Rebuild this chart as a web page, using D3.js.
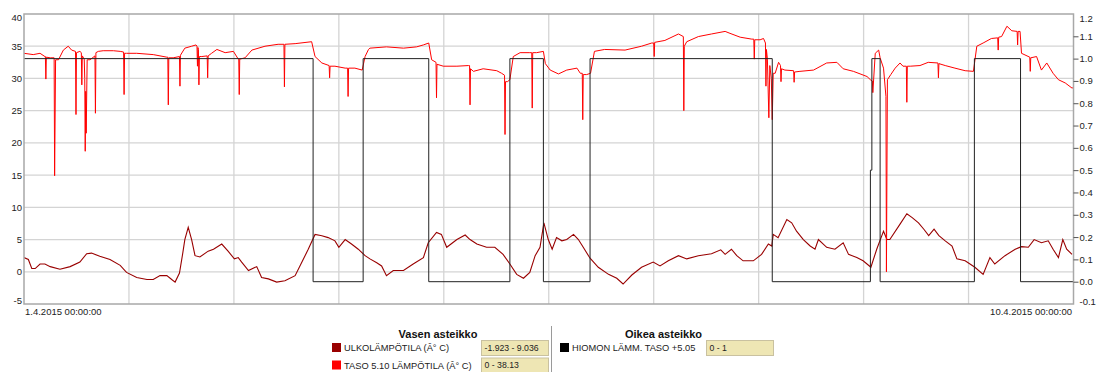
<!DOCTYPE html>
<html>
<head>
<meta charset="utf-8">
<script src="https://cdn.jsdelivr.net/npm/d3@7"></script>
<style>
  body { margin: 0; background: #fff; }
  svg { display: block; font-family: "Liberation Sans", Arial, sans-serif; }
</style>
</head>
<body>
<div id="chart"></div>
<script>
// time axis: 1.4.2015 -> 10.4.2015, values keyed by hours from start
const startTime = new Date(2015, 3, 1);
const endTime = new Date(2015, 3, 10);
const dateLabels = ['1.4.2015 00:00:00', '10.4.2015 00:00:00'];

const leftTicks = [-5, 0, 5, 10, 15, 20, 25, 30, 35, 40];
const rightTicks = [-0.1, 0, 0.1, 0.2, 0.3, 0.4, 0.5, 0.6, 0.7, 0.8, 0.9, 1.0, 1.1, 1.2];

const leftNames = ['ULKOLÄMPÖTILA (Â° C)', 'TASO 5.10 LÄMPÖTILA (Â° C)'];
const leftRanges = ['-1.923 - 9.036', '0 - 38.13'];
const rightNames = ['HIOMON LÄMM. TASO +5.05'];
const rightRanges = ['0 - 1'];

// ULKOLÄMPÖTILA, left scale
const ulkoSeries = [
  [0, 2.2], [0.9, 1.9], [1.6, 0.5], [2.3, 0.5], [3.3, 1.2], [4.3, 1.2], [5.4, 0.8], [7.4, 0.4],
  [9.5, 0.8], [11.5, 1.5], [12.9, 2.8], [13.9, 2.9], [15.6, 2.4], [17.7, 1.9], [19.8, 1.0],
  [21.1, -0.1], [23.2, -0.9], [25.3, -1.2], [26.6, -1.2], [28.0, -0.6], [29.4, -0.6], [30.4, -1.2],
  [31.1, -1.6], [32.0, -0.2], [32.7, 3.0], [33.1, 5.0], [33.8, 6.9], [34.5, 5.0], [35.2, 2.5],
  [36.2, 2.3], [37.9, 3.2], [39.0, 3.5], [40.7, 4.3], [42.0, 3.2], [43.3, 2.0], [44.1, 2.2],
  [44.8, 1.5], [46.2, 0.2], [47.9, 0.8], [48.9, -0.9], [50.3, -1.1], [52.0, -1.6], [53.7, -1.4],
  [55.8, -0.6], [57.2, 1.5], [58.5, 3.5], [59.9, 5.8], [61.3, 5.6], [62.6, 5.3], [64.0, 4.8],
  [64.8, 3.8], [66.1, 5.0], [67.4, 4.3], [68.8, 3.5], [70.2, 2.5], [71.2, 2.0], [72.6, 1.4],
  [73.6, 0.9], [74.6, -0.6], [76.0, 0.2], [78.1, 0.2], [80.1, 1.2], [82.2, 2.2], [83.2, 4.5],
  [84.9, 6.1], [85.9, 5.8], [87.0, 3.8], [89.1, 5.0], [90.8, 5.7], [91.8, 5.0], [93.2, 4.3],
  [95.2, 3.8], [96.9, 3.8], [98.6, 2.7], [100.0, 1.2], [101.4, -0.4], [102.8, -1.0], [104.1, -0.1],
  [105.2, 2.5], [106.2, 3.8], [107.0, 7.6], [107.9, 5.0], [108.7, 3.5], [109.6, 5.3], [110.7, 4.8],
  [111.7, 5.0], [113.1, 5.8], [114.1, 5.0], [115.1, 3.8], [116.5, 2.1], [118.2, 0.7], [120.3, -0.4],
  [122.0, -1.0], [123.3, -1.9], [125.1, -0.5], [127.1, 0.7], [129.5, 1.5], [130.9, 0.9], [132.6, 1.7],
  [134.7, 2.5], [136.4, 2.0], [138.8, 2.5], [141.5, 2.8], [143.4, 3.4], [144.3, 2.7], [145.6, 3.5],
  [146.7, 2.5], [148.0, 1.7], [150.1, 1.7], [151.8, 2.7], [153.2, 4.3], [153.9, 4.0], [154.2, 5.8],
  [155.2, 5.3], [157.0, 8.1], [158.0, 7.6], [159.0, 6.3], [160.4, 5.0], [161.8, 4.0], [162.8, 3.5],
  [163.5, 5.0], [165.2, 3.8], [166.9, 3.5], [168.6, 4.5], [169.7, 2.7], [171.4, 2.2], [172.7, 1.7],
  [174.3, 0.7], [175.5, 3.5], [176.9, 6.3], [177.6, 5.0], [178.2, 5.0], [180.3, 7.4], [181.7, 9.0],
  [182.8, 8.4], [184.1, 7.6], [185.2, 6.6], [186.2, 5.6], [187.3, 6.6], [188.3, 5.6], [189.6, 4.8],
  [191.0, 4.0], [192.0, 2.0], [193.7, 1.7], [195.7, 0.7], [197.4, -0.4], [198.8, 2.2], [199.8, 1.2],
  [201.9, 2.5], [204.0, 3.5], [205.3, 3.9], [206.7, 3.8], [207.9, 5.0], [209.4, 4.5], [210.8, 4.8],
  [211.8, 3.5], [212.9, 2.2], [213.8, 5.0], [214.6, 3.5], [215.7, 2.7]
];

// TASO 5.10 LÄMPÖTILA, left scale
const tasoSeries = [
  [0, 33.9], [1.9, 33.7], [3.3, 33.9], [4.3, 33.4], [4.4, 33.4], [4.5, 29.9], [4.6, 33.3], [5.4, 33.2],
  [6.2, 33.2], [6.3, 14.9], [6.5, 32.9], [7.1, 32.9], [8.1, 34.4], [9.1, 35.0], [9.8, 34.4], [10.6, 34.2],
  [10.7, 24.4], [10.8, 34.0], [11.5, 34.2], [11.8, 34.0], [11.9, 29.0], [12.0, 33.5], [12.4, 33.0],
  [12.5, 30.0], [12.6, 18.7], [12.7, 28.0], [12.8, 21.5], [13.0, 32.9], [13.6, 32.9], [14.6, 33.5],
  [14.7, 24.6], [14.8, 34.0], [15.3, 34.2], [16.3, 34.3], [18.4, 34.3], [19.8, 34.2], [20.5, 34.1],
  [20.6, 27.5], [20.7, 33.9], [21.1, 33.9], [23.2, 33.9], [26.6, 33.7], [29.4, 33.3], [29.6, 33.3],
  [29.7, 25.9], [29.8, 33.2], [30.7, 33.2], [32.0, 33.4], [32.1, 28.8], [32.2, 33.6], [33.1, 34.7],
  [34.5, 35.0], [35.4, 35.2], [35.6, 35.0], [35.7, 31.9], [35.8, 34.8], [35.9, 34.5], [36.0, 29.0],
  [36.1, 33.4], [36.6, 33.4], [37.7, 33.5], [37.8, 30.1], [37.9, 33.5], [38.6, 33.9], [39.7, 34.5],
  [41.4, 34.0], [43.1, 34.2], [44.1, 33.0], [44.2, 33.0], [44.3, 27.5], [44.4, 33.0], [45.5, 33.2],
  [46.9, 34.4], [49.6, 35.0], [52.3, 35.3], [53.5, 35.3], [53.6, 28.7], [53.7, 35.3], [55.8, 35.4],
  [59.2, 35.7], [59.9, 33.4], [61.3, 32.4], [62.8, 32.0], [62.9, 30.1], [63.0, 31.9], [64.0, 31.9],
  [66.1, 31.6], [66.6, 31.6], [66.7, 27.2], [66.8, 31.6], [68.1, 31.6], [69.6, 31.3], [70.2, 33.4],
  [70.9, 34.5], [71.2, 34.7], [74.6, 34.9], [78.1, 34.7], [80.8, 34.9], [82.2, 35.2], [83.3, 35.5],
  [83.9, 32.9], [84.8, 32.5], [84.9, 27.0], [85.0, 32.2], [86.3, 31.9], [89.1, 31.9], [91.5, 32.0],
  [91.7, 32.0], [91.8, 25.9], [91.9, 31.5], [92.5, 31.1], [94.5, 31.5], [97.3, 31.2], [98.3, 30.8],
  [98.9, 30.5], [99.0, 21.3], [99.1, 29.5], [99.5, 29.5], [100.0, 29.8], [100.7, 33.4], [102.1, 34.0],
  [104.1, 34.0], [104.5, 34.0], [104.6, 25.4], [104.7, 34.0], [105.5, 34.0], [106.9, 34.2], [107.3, 32.3],
  [108.3, 31.3], [110.0, 30.7], [111.7, 31.3], [113.8, 31.6], [114.5, 30.8], [114.9, 30.8], [115.0, 23.6],
  [115.1, 30.6], [115.8, 30.6], [116.6, 30.8], [117.4, 34.2], [119.5, 34.5], [123.7, 34.4], [127.1, 35.0],
  [129.2, 35.5], [129.6, 35.5], [129.7, 33.4], [129.8, 35.6], [131.9, 35.9], [134.7, 36.9], [135.7, 36.5],
  [135.8, 25.0], [135.9, 35.0], [136.4, 35.7], [138.8, 36.5], [141.5, 36.9], [144.3, 37.3], [145.3, 37.0],
  [147.4, 36.4], [149.8, 36.1], [150.2, 36.1], [150.3, 33.0], [150.4, 36.0], [151.5, 36.0], [152.2, 36.2],
  [152.6, 35.5], [152.7, 28.8], [152.8, 34.5], [153.0, 33.0], [153.3, 23.9], [153.5, 32.0], [153.8, 30.0],
  [154.0, 23.6], [154.2, 30.8], [154.6, 30.8], [155.3, 32.5], [155.7, 32.0], [155.8, 29.5], [155.9, 31.5],
  [156.6, 31.3], [158.4, 31.2], [158.5, 29.4], [158.6, 31.0], [159.7, 31.1], [162.5, 31.3], [165.2, 32.4],
  [167.3, 32.5], [168.6, 31.5], [170.7, 31.1], [173.5, 30.3], [174.2, 29.8], [174.6, 29.6], [174.7, 27.8],
  [175.2, 33.9], [175.9, 34.4], [176.2, 33.2], [176.9, 31.6], [177.4, 27.2], [177.5, 0.0], [177.7, 29.8],
  [178.4, 30.6], [179.3, 31.6], [180.3, 32.4], [180.9, 31.9], [181.6, 31.9], [181.7, 26.3], [181.8, 31.9],
  [182.4, 31.9], [184.4, 32.0], [186.1, 32.5], [188.1, 32.4], [188.2, 30.1], [188.3, 32.3], [189.6, 32.0],
  [191.6, 31.6], [193.7, 31.2], [195.4, 31.1], [196.1, 35.0], [197.4, 35.5], [199.1, 36.2], [200.4, 36.3],
  [200.5, 34.4], [200.6, 36.4], [201.2, 36.5], [202.3, 38.1], [203.3, 37.4], [204.4, 37.3], [204.5, 35.2],
  [204.6, 37.3], [205.0, 37.3], [205.3, 33.9], [207.0, 33.3], [207.1, 31.1], [207.2, 33.2], [208.4, 33.4],
  [209.4, 31.3], [210.5, 32.4], [211.8, 30.8], [212.9, 29.8], [214.3, 29.3], [215.7, 28.5], [216, 28.6]
];

// HIOMON LÄMM. TASO +5.05, right scale (step)
const hiomonSeries = [
  [0, 1], [59.5, 0], [69.8, 1], [83.3, 0], [100.0, 1], [106.9, 0], [116.5, 1], [154.0, 0],
  [174.2, 0.5], [174.5, 1], [176.2, 0], [195.6, 1], [205.1, 0], [216, 0]
];

const width = 1097, height = 372;
const plot = { left: 24, right: 1073.5, top: 14, bottom: 304 };

const svg = d3.select('#chart').append('svg')
  .attr('width', width)
  .attr('height', height);

const toDate = h => new Date(startTime.getTime() + h * 3600000);

const x = d3.scaleTime()
  .domain([startTime, endTime])
  .range([plot.left, plot.right]);
const yLeft = d3.scaleLinear()
  .domain([leftTicks[0], leftTicks[leftTicks.length - 1]])
  .range([plot.bottom, plot.top]);
const yRight = d3.scaleLinear()
  .domain([rightTicks[0], rightTicks[rightTicks.length - 1]])
  .range([plot.bottom, plot.top]);

// grid
const grid = svg.append('g').attr('stroke', '#d4d4d4').attr('stroke-width', 1.3);
grid.selectAll('.hgrid')
  .data(leftTicks.slice(1, -1))
  .enter().append('line')
  .attr('x1', plot.left).attr('x2', plot.right)
  .attr('y1', d => yLeft(d)).attr('y2', d => yLeft(d));
const dayLines = d3.range(1, 10).map(i => new Date(startTime.getTime() + i * (endTime - startTime) / 10));
grid.selectAll('.vgrid')
  .data(dayLines)
  .enter().append('line')
  .attr('y1', plot.top).attr('y2', plot.bottom)
  .attr('x1', d => x(d)).attr('x2', d => x(d));

svg.append('clipPath').attr('id', 'plot-clip')
  .append('rect')
  .attr('x', plot.left).attr('y', plot.top)
  .attr('width', plot.right - plot.left).attr('height', plot.bottom - plot.top);

const lines = svg.append('g').attr('clip-path', 'url(#plot-clip)').attr('fill', 'none');

const leftLine = d3.line()
  .x(d => x(toDate(d[0])))
  .y(d => yLeft(d[1]));
const stepLine = d3.line()
  .curve(d3.curveStepAfter)
  .x(d => x(toDate(d[0])))
  .y(d => yRight(d[1]));

lines.append('path')
  .attr('d', leftLine(ulkoSeries))
  .attr('stroke', '#990000')
  .attr('stroke-width', 1.1);
lines.append('path')
  .attr('d', leftLine(tasoSeries))
  .attr('stroke', '#ff0000')
  .attr('stroke-width', 1);
lines.append('path')
  .attr('d', stepLine(hiomonSeries))
  .attr('stroke', '#222')
  .attr('stroke-width', 1);

// frame
svg.append('rect')
  .attr('x', plot.left).attr('y', plot.top)
  .attr('width', plot.right - plot.left).attr('height', plot.bottom - plot.top)
  .attr('fill', 'none')
  .attr('stroke', '#a8a8a8')
  .attr('stroke-width', 1.5);

// left axis
const leftAxis = svg.append('g')
  .attr('transform', `translate(${plot.left},0)`)
  .call(d3.axisLeft(yLeft).tickValues(leftTicks).tickSize(0).tickPadding(2).tickFormat(d => String(d)));
leftAxis.select('.domain').remove();
leftAxis.selectAll('text')
  .attr('font-size', '9.5px')
  .attr('font-family', '"Liberation Sans", Arial, sans-serif')
  .attr('fill', '#222')
  .attr('y', d => d === leftTicks[leftTicks.length - 1] ? 3.5 : (d === leftTicks[0] ? -4 : 0));

// right axis
const rightAxis = svg.append('g')
  .attr('transform', `translate(${plot.right},0)`)
  .call(d3.axisRight(yRight).tickValues(rightTicks).tickSize(5).tickPadding(1).tickFormat(d => d.toFixed(1)));
rightAxis.select('.domain').remove();
rightAxis.selectAll('line')
  .attr('stroke', '#555')
  .attr('opacity', d => (d === rightTicks[0] || d === rightTicks[rightTicks.length - 1]) ? 0 : 1);
rightAxis.selectAll('text')
  .attr('font-size', '9.5px')
  .attr('font-family', '"Liberation Sans", Arial, sans-serif')
  .attr('fill', '#222')
  .attr('y', d => d === rightTicks[rightTicks.length - 1] ? 4 : (d === rightTicks[0] ? -3 : 0));

// date labels under the plot
svg.append('text')
  .attr('x', plot.left + 1).attr('y', 314.5)
  .attr('font-size', '9.5px').attr('fill', '#222')
  .text(dateLabels[0]);
svg.append('text')
  .attr('x', plot.right - 1.5).attr('y', 314.5)
  .attr('text-anchor', 'end')
  .attr('font-size', '9.5px').attr('fill', '#222')
  .text(dateLabels[1]);

// legend
const legend = svg.append('g');
function legendBlock(title, titleX, names, ranges, colors, swatchX, boxX) {
  legend.append('text')
    .attr('x', titleX).attr('y', 337.5)
    .attr('text-anchor', 'middle')
    .attr('font-size', '11px').attr('font-weight', 'bold').attr('fill', '#111')
    .text(title);
  names.forEach((name, i) => {
    const cy = 347.5 + i * 17.5;
    legend.append('rect')
      .attr('x', swatchX).attr('y', cy - 4.5)
      .attr('width', 9).attr('height', 9)
      .attr('fill', colors[i]);
    legend.append('text')
      .attr('x', swatchX + 12).attr('y', cy + 3.5)
      .attr('font-size', '9.3px').attr('fill', '#222')
      .text(name);
    legend.append('rect')
      .attr('x', boxX).attr('y', cy - 7)
      .attr('width', 67).attr('height', 15)
      .attr('fill', '#eee6b4')
      .attr('stroke', '#c9c1a0')
      .attr('stroke-width', 1);
    legend.append('text')
      .attr('x', boxX + 3).attr('y', cy + 3.2)
      .attr('font-size', '8.7px').attr('fill', '#222')
      .text(ranges[i]);
  });
}
legendBlock('Vasen asteikko', 438, leftNames, leftRanges, ['#990000', '#ff0000'], 332, 481.5);
legendBlock('Oikea asteikko', 663.5, rightNames, rightRanges, ['#000'], 560, 706.5);

legend.append('line')
  .attr('x1', 551.5).attr('x2', 551.5)
  .attr('y1', 326).attr('y2', 372)
  .attr('stroke', '#9a9a9a')
  .attr('stroke-width', 1);
</script>
</body>
</html>
